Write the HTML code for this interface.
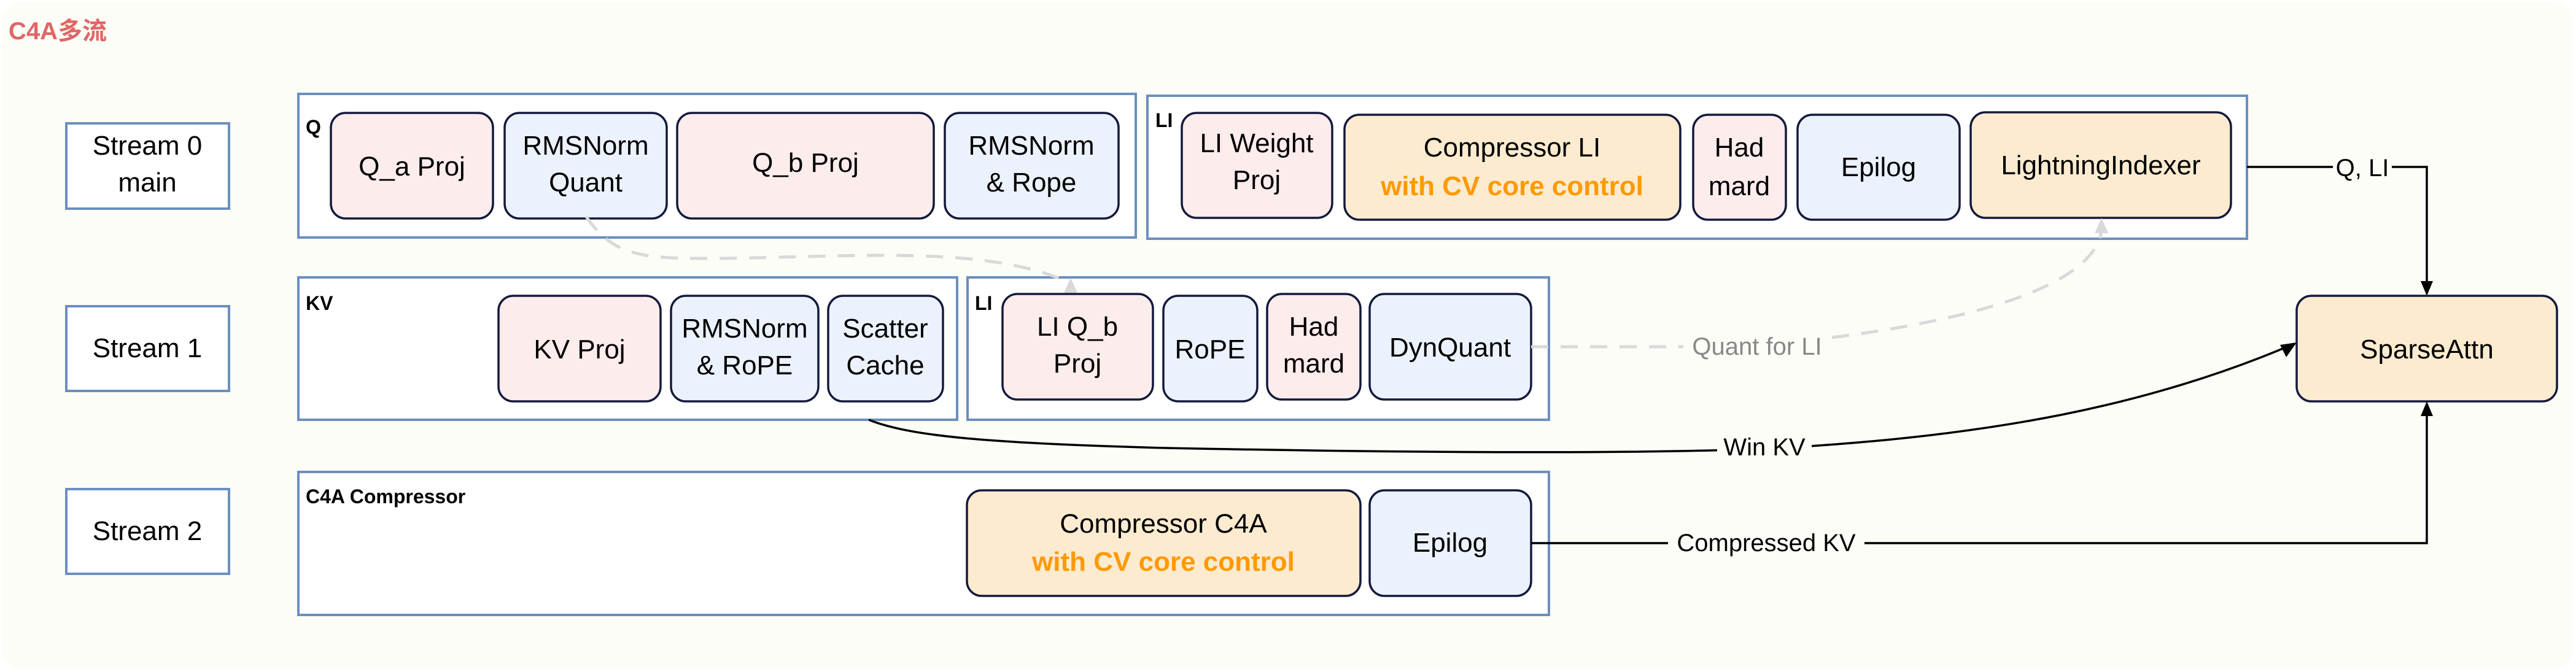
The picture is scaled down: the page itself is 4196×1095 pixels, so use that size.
<!DOCTYPE html>
<html><head><meta charset="utf-8"><style>
html,body{margin:0;padding:0;background:#fff;}
svg{display:block;}
text{font-family:"Liberation Sans","Noto Sans CJK SC",sans-serif;}
</style></head><body>
<svg width="4196" height="1095" viewBox="0 0 4196 1095" xmlns="http://www.w3.org/2000/svg">
<rect x="0" y="0" width="4196" height="1095" fill="#ffffff"/>
<rect x="4" y="4" width="4186" height="1085" rx="30" fill="#fbfdf6"/>
<text x="14" y="64" font-size="40" font-weight="bold" fill="#e06666">C4A多流</text>

<!-- stream boxes -->
<g fill="#ffffff" stroke="#6c8ebf" stroke-width="4">
<rect x="108" y="201" width="265" height="139"/>
<rect x="108" y="499" width="265" height="138"/>
<rect x="108" y="797" width="265" height="138"/>
</g>
<g font-size="44" fill="#000" text-anchor="middle">
<text x="240" y="252">Stream 0</text><text x="240" y="312">main</text>
<text x="240" y="582">Stream 1</text>
<text x="240" y="880">Stream 2</text>
</g>

<!-- groups -->
<g fill="#ffffff" stroke="#6c8ebf" stroke-width="4">
<rect x="486" y="153" width="1364" height="234"/>
<rect x="1869" y="156" width="1791" height="233"/>
<rect x="486" y="452" width="1073" height="232"/>
<rect x="1576" y="452" width="947" height="232"/>
<rect x="486" y="769" width="2037" height="233"/>
</g>
<g font-size="32" font-weight="bold" fill="#000">
<text x="498" y="218">Q</text>
<text x="1882" y="207">LI</text>
<text x="498" y="505">KV</text>
<text x="1588" y="505">LI</text>
<text x="498" y="820">C4A Compressor</text>
</g>

<!-- node boxes -->
<g stroke="#141a3c" stroke-width="3.5">
<rect x="539" y="184" width="264" height="172" rx="24" fill="#fdecec"/>
<rect x="822" y="184" width="264" height="172" rx="24" fill="#ecf2fd"/>
<rect x="1103" y="184" width="418" height="172" rx="24" fill="#fdecec"/>
<rect x="1539" y="184" width="283" height="172" rx="24" fill="#ecf2fd"/>

<rect x="1925" y="184" width="245" height="171" rx="24" fill="#fdecec"/>
<rect x="2190" y="187" width="547" height="171" rx="24" fill="#fdebd0"/>
<rect x="2758" y="187" width="151" height="171" rx="24" fill="#fdecec"/>
<rect x="2928" y="187" width="264" height="171" rx="24" fill="#ecf2fd"/>
<rect x="3210" y="183" width="424" height="172" rx="24" fill="#fdebd0"/>

<rect x="812" y="482" width="264" height="172" rx="24" fill="#fdecec"/>
<rect x="1093" y="482" width="240" height="172" rx="24" fill="#ecf2fd"/>
<rect x="1349" y="482" width="187" height="172" rx="24" fill="#ecf2fd"/>

<rect x="1633" y="479" width="245" height="172" rx="24" fill="#fdecec"/>
<rect x="1895" y="482" width="153" height="172" rx="24" fill="#ecf2fd"/>
<rect x="2064" y="479" width="152" height="172" rx="24" fill="#fdecec"/>
<rect x="2231" y="479" width="263" height="172" rx="24" fill="#ecf2fd"/>

<rect x="1575" y="799" width="641" height="172" rx="24" fill="#fdebd0"/>
<rect x="2231" y="799" width="263" height="172" rx="24" fill="#ecf2fd"/>

<rect x="3741" y="482" width="424" height="172" rx="24" fill="#fdebd0"/>
</g>

<g font-size="44" fill="#000" text-anchor="middle">
<text x="671" y="286">Q_a Proj</text>
<text x="954" y="252">RMSNorm</text><text x="954" y="312">Quant</text>
<text x="1312" y="280">Q_b Proj</text>
<text x="1680" y="252">RMSNorm</text><text x="1680" y="312">&amp; Rope</text>

<text x="2047" y="248">LI Weight</text><text x="2047" y="308">Proj</text>
<text x="2463" y="255">Compressor LI</text>
<text x="2463" y="318" fill="#ff9900" font-weight="bold">with CV core control</text>
<text x="2833" y="255">Had</text><text x="2833" y="318">mard</text>
<text x="3060" y="287">Epilog</text>
<text x="3422" y="284">LightningIndexer</text>

<text x="944" y="584">KV Proj</text>
<text x="1213" y="550">RMSNorm</text><text x="1213" y="610">&amp; RoPE</text>
<text x="1442" y="550">Scatter</text><text x="1442" y="610">Cache</text>

<text x="1755" y="547">LI Q_b</text><text x="1755" y="607">Proj</text>
<text x="1971" y="584">RoPE</text>
<text x="2140" y="547">Had</text><text x="2140" y="607">mard</text>
<text x="2362" y="581">DynQuant</text>

<text x="1895" y="868">Compressor C4A</text>
<text x="1895" y="930" fill="#ff9900" font-weight="bold">with CV core control</text>
<text x="2362" y="899">Epilog</text>

<text x="3953" y="584">SparseAttn</text>
</g>

<!-- connectors -->
<g fill="none" stroke="#000" stroke-width="3.5">
<path d="M3660 272 H3953 V470"/>
<path d="M2494 885 H3953 V666"/>
<path d="M1415 684 C1480 710 1600 722 1900 730 C2300 738 2700 740 2900 730 C3250 710 3500 660 3728 564"/>
</g>
<g fill="#000">
<polygon points="3953,482 3943,458 3963,458"/>
<polygon points="3953,654 3943,678 3963,678"/>
<polygon points="3741,558 3714,562 3724,582"/>
</g>
<g font-size="40" fill="#000" text-anchor="middle">
<rect x="3800" y="250" width="96" height="46" fill="#fbfdf6"/>
<text x="3848" y="287">Q, LI</text>
<rect x="2797" y="703" width="154" height="50" fill="#fbfdf6"/>
<text x="2874" y="742">Win KV</text>
<rect x="2717" y="862" width="320" height="50" fill="#fbfdf6"/>
<text x="2877" y="898">Compressed KV</text>
</g>

<!-- dashed gray -->
<g fill="none" stroke="#d9d9d9" stroke-width="5" stroke-dasharray="28,20">
<path d="M955 353 C1000 420 1050 422 1180 421 C1400 418 1600 400 1737 458"/>
<path d="M2494 565 H2742"/>
<path d="M2984 550 C3300 510 3420 440 3423 372"/>
</g>
<g fill="#d9d9d9">
<polygon points="1744,453 1733,477 1755,477"/>
<polygon points="3423,355 3412,380 3434,380"/>
</g>
<text x="2862" y="578" font-size="40" fill="#888888" text-anchor="middle">Quant for LI</text>
</svg>
</body></html>
